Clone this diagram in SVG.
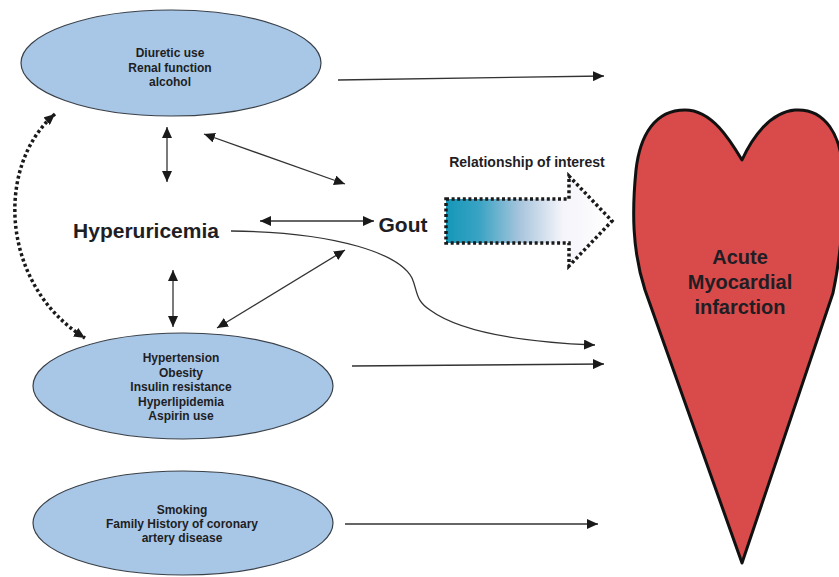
<svg xmlns="http://www.w3.org/2000/svg" width="839" height="577" viewBox="0 0 839 577">
<defs>
<marker id="ah" markerUnits="userSpaceOnUse" markerWidth="12" markerHeight="10" refX="11" refY="5" orient="auto-start-reverse">
<path d="M0,0 L11,5 L0,10 z" fill="#1a1a1a"/>
</marker>
<linearGradient id="grad" x1="0" y1="0" x2="1" y2="0">
<stop offset="0" stop-color="#1597b8"/>
<stop offset="0.2" stop-color="#3aa3c4"/>
<stop offset="0.45" stop-color="#a9c6dd"/>
<stop offset="0.7" stop-color="#f4f4fa"/>
<stop offset="1" stop-color="#ffffff"/>
</linearGradient>
<style>
.ell{fill:#a8c7e7;stroke:#3a4048;stroke-width:1.2}
.t{font-family:"Liberation Sans",Arial,sans-serif;font-weight:bold;fill:#1e1e24;text-anchor:middle}
.s{font-size:12px}
.c{fill:none;stroke:#333;stroke-width:1.3}
.dot{fill:none;stroke:#1a1a1a;stroke-width:3.5;stroke-dasharray:3 2.6}
</style>
</defs>
<rect width="839" height="577" fill="#ffffff"/>

<g id="heart">
<path d="M742 160 C730 140 712 110 685 110 C655 110 640 135 636 170 C632 210 632 250 645 290 L742 563 L833 293 C840 260 844 220 843 175 C842 135 825 108 795 110 C770 112 752 138 742 160 Z" fill="#d94a4b" stroke="#111" stroke-width="3" stroke-linejoin="round"/>
<text class="t" x="740" y="264" font-size="20">Acute</text>
<text class="t" x="740" y="289" font-size="20">Myocardial</text>
<text class="t" x="740" y="314" font-size="20">infarction</text>
</g>

<g id="node-diuretic">
<ellipse class="ell" cx="171" cy="63" rx="150" ry="53"/>
<text class="t s" x="170" y="57">Diuretic use</text>
<text class="t s" x="170" y="72">Renal function</text>
<text class="t s" x="170" y="86">alcohol</text>
</g>

<g id="node-hypertension">
<ellipse class="ell" cx="183" cy="386" rx="150" ry="53"/>
<text class="t s" x="181" y="362">Hypertension</text>
<text class="t s" x="181" y="377">Obesity</text>
<text class="t s" x="181" y="391">Insulin resistance</text>
<text class="t s" x="181" y="406">Hyperlipidemia</text>
<text class="t s" x="181" y="420">Aspirin use</text>
</g>

<g id="node-smoking">
<ellipse class="ell" cx="183" cy="523" rx="150" ry="52"/>
<text class="t s" x="182" y="514">Smoking</text>
<text class="t s" x="182" y="528">Family History of coronary</text>
<text class="t s" x="182" y="542">artery disease</text>
</g>

<g id="node-hyperuricemia">
<text class="t" x="146" y="238" font-size="21">Hyperuricemia</text>
</g>

<g id="node-gout">
<text class="t" x="403" y="232" font-size="21">Gout</text>
</g>

<g id="node-relationship">
<text class="t" x="527" y="167" font-size="14">Relationship of interest</text>
<polygon points="446,199 569,199 569,176 612,221 569,266 569,243 446,243" fill="url(#grad)" stroke="#1a1a1a" stroke-width="3.5" stroke-dasharray="3 2.6"/>
</g>

<g id="connectors">
<line class="c" x1="338" y1="80" x2="604" y2="76" marker-end="url(#ah)"/>
<line class="c" x1="352" y1="366" x2="604" y2="364" marker-end="url(#ah)"/>
<line class="c" x1="345" y1="524" x2="598" y2="524" marker-end="url(#ah)"/>
<line class="c" x1="167" y1="127" x2="167" y2="182" marker-start="url(#ah)" marker-end="url(#ah)"/>
<line class="c" x1="204" y1="134" x2="345" y2="184" marker-start="url(#ah)" marker-end="url(#ah)"/>
<line class="c" x1="260" y1="221" x2="374" y2="221" marker-start="url(#ah)" marker-end="url(#ah)"/>
<line class="c" x1="217" y1="328" x2="345" y2="250" marker-start="url(#ah)" marker-end="url(#ah)"/>
<line class="c" x1="173" y1="270" x2="173" y2="327" marker-start="url(#ah)" marker-end="url(#ah)"/>
<path class="c" d="M231 231 C340 232 400 255 412 278 C418 292 415 300 430 310 C460 332 520 342 595 345" marker-end="url(#ah)"/>
<path class="dot" d="M55 114 C-5 165 0 285 85 338" marker-start="url(#ah)" marker-end="url(#ah)"/>
</g>
</svg>
